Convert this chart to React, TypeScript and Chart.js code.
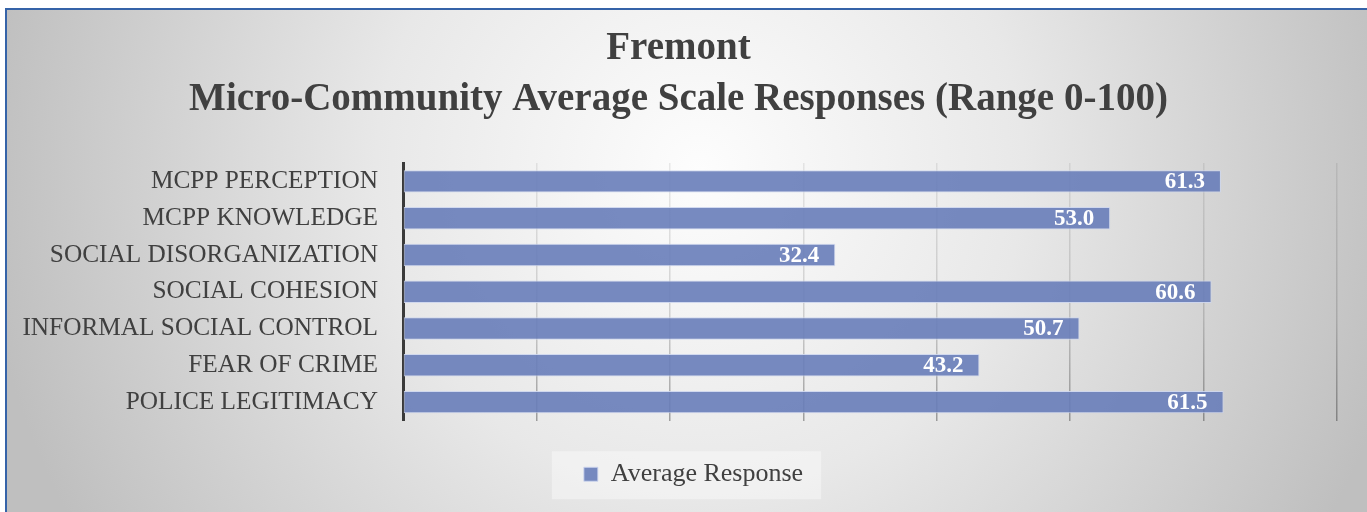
import React, { useEffect, useRef } from 'react';
import { Chart, registerables } from 'chart.js';

Chart.register(...registerables);

const categories = [
  'MCPP PERCEPTION',
  'MCPP KNOWLEDGE',
  'SOCIAL DISORGANIZATION',
  'SOCIAL COHESION',
  'INFORMAL SOCIAL CONTROL',
  'FEAR OF CRIME',
  'POLICE LEGITIMACY',
];
const averageResponse = [61.3, 53.0, 32.4, 60.6, 50.7, 43.2, 61.5];
const seriesLabel = 'Average Response';
const titleLines = ['Fremont', 'Micro-Community Average Scale Responses (Range 0-100)'];
const xMin = 0;
const xMax = 70;
const xStep = 10;

const FONT = "'Liberation Serif', 'Times New Roman', serif";
const TEXT = '#404040';
const BAR_FILL = 'rgba(104,125,185,0.9)';
const BAR_EDGE = 'rgba(205,214,238,0.9)';

const LEGEND_SHIFT = 15;

const backgroundPlugin = {
  id: 'bgPanel',
  afterLayout(chart: any) {
    const lg = chart.legend;
    if (lg) {
      lg.left += LEGEND_SHIFT;
      lg.right += LEGEND_SHIFT;
    }
  },
  beforeDraw(chart: any) {
    const { ctx, width, height } = chart;
    ctx.save();
    ctx.fillStyle = '#ffffff';
    ctx.fillRect(0, 0, width, height);
    const g = ctx.createRadialGradient(700, 170, 0, 700, 170, 720);
    g.addColorStop(0, '#fdfdfd');
    g.addColorStop(0.45, '#e8e8e8');
    g.addColorStop(1, '#bfbfbf');
    ctx.fillStyle = g;
    ctx.fillRect(5, 8, width - 5, height - 8);
    ctx.strokeStyle = '#3563a8';
    ctx.lineWidth = 2;
    ctx.beginPath();
    ctx.moveTo(6, height);
    ctx.lineTo(6, 9);
    ctx.lineTo(width, 9);
    ctx.stroke();
    // legend background panel
    const lg = chart.legend;
    if (lg && lg.legendHitBoxes && lg.legendHitBoxes[0]) {
      const hb = lg.legendHitBoxes[0];
      const cy = hb.top + hb.height / 2;
      ctx.fillStyle = 'rgba(255,255,255,0.38)';
      ctx.fillRect(hb.left - 32, cy - 23, hb.width + 50, 48);
    }
    ctx.restore();
  },
};

const valueLabelPlugin = {
  id: 'valueLabels',
  afterDatasetsDraw(chart: any) {
    const { ctx } = chart;
    const meta = chart.getDatasetMeta(0);
    const data = chart.data.datasets[0].data as number[];
    ctx.save();
    ctx.font = `bold 23px ${FONT}`;
    ctx.fillStyle = '#ffffff';
    ctx.textAlign = 'right';
    ctx.textBaseline = 'middle';
    meta.data.forEach((bar: any, i: number) => {
      ctx.fillText(data[i].toFixed(1), bar.x - 16, bar.y + 1);
    });
    ctx.restore();
  },
};

function gridGradient(chart: any) {
  const a = chart.chartArea;
  if (!a) return 'rgba(0,0,0,0.12)';
  const g = chart.ctx.createLinearGradient(0, a.top, 0, a.bottom);
  g.addColorStop(0, 'rgba(0,0,0,0.08)');
  g.addColorStop(0.6, 'rgba(0,0,0,0.15)');
  g.addColorStop(1, 'rgba(0,0,0,0.33)');
  return g;
}

export default function App() {
  const ref = useRef<HTMLCanvasElement | null>(null);

  useEffect(() => {
    document.body.style.margin = '0';
    const canvas = ref.current;
    if (!canvas) return;
    const chart = new Chart(canvas, {
      type: 'bar',
      data: {
        labels: categories,
        datasets: [
          {
            label: seriesLabel,
            data: averageResponse,
            backgroundColor: BAR_FILL,
            borderColor: BAR_EDGE,
            borderWidth: 1,
            borderSkipped: false,
            barPercentage: 0.61,
            categoryPercentage: 1,
          },
        ],
      },
      options: {
        indexAxis: 'y',
        responsive: false,
        animation: false,
        devicePixelRatio: 1,
        layout: { padding: { left: 20, right: 30, top: 0, bottom: 14.75 } },
        scales: {
          x: {
            type: 'linear',
            position: 'bottom',
            min: xMin,
            max: xMax,
            ticks: { display: false, stepSize: xStep },
            grid: {
              color: (c: any) => gridGradient(c.chart),
              lineWidth: 1.5,
              drawTicks: false,
            },
            border: { display: false },
            afterFit: (s: any) => {
              s.height = 30.75;
            },
          },
          y: {
            type: 'category',
            grid: { display: false, drawTicks: false },
            border: { display: true, color: '#3a3a3a', width: 3 },
            ticks: {
              color: TEXT,
              padding: 25,
              font: { family: FONT, size: 25.3 },
            },
            afterFit: (s: any) => {
              s.width = 383;
            },
          },
        },
        plugins: {
          title: {
            display: true,
            text: titleLines,
            color: TEXT,
            font: { family: FONT, size: 39, weight: 'bold', lineHeight: 51 / 39 },
            padding: { top: 23.5, bottom: 37.5 },
          },
          legend: {
            display: true,
            position: 'bottom',
            labels: {
              color: TEXT,
              boxWidth: 14,
              boxHeight: 14,
              padding: 10,
              font: { family: FONT, size: 26 },
            },
          },
          tooltip: { enabled: false },
        },
      },
      plugins: [backgroundPlugin, valueLabelPlugin],
    } as any);
    return () => chart.destroy();
  }, []);

  return (
    <div style={{ position: 'absolute', left: 0, top: 0, width: 1367, height: 512 }}>
      <canvas ref={ref} width={1367} height={512} style={{ display: 'block' }} />
    </div>
  );
}
